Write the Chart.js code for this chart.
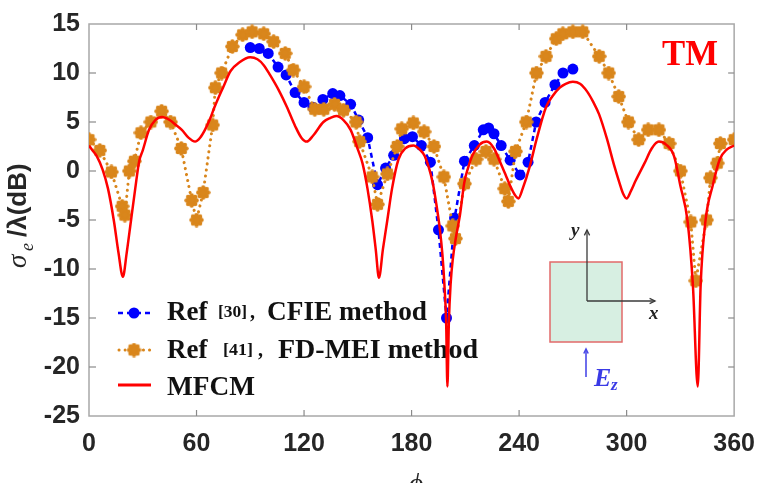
<!DOCTYPE html>
<html><head><meta charset="utf-8">
<script src="https://cdn.jsdelivr.net/npm/chart.js@4.4.0/dist/chart.umd.min.js"></script>
<style>html,body{margin:0;padding:0;background:#fff;overflow:hidden}#wrap{width:768px;height:483px;position:relative}</style>
</head><body><div id="wrap"><canvas id="c" width="768" height="483"></canvas></div>
<script>
// ---- tick labels ----
const xTicks = [0, 60, 120, 180, 240, 300, 360];
const yTicks = [-25, -20, -15, -10, -5, 0, 5, 10, 15];

// ---- MFCM (red solid) ----
const mfcmPhi = [0,2,4.4,7.5,10.6,13.9,16.5,18.9,21,23.4,25.8,28,30,33.5,37,40.8,45,48.5,51.8,55.5,59.2,62,64.7,67.5,70,75,79,84,90,94,97.5,101,106,110.5,115,118.5,121.5,125,130.8,134.5,138,142,146,150,152.6,155.4,158.1,160,161.8,164,166.4,169.1,172.7,176.5,181,184.5,187.4,191.8,194,195.7,197.2,198.3,199.3,200,200.8,201.8,203,205,207,209.4,211.5,214,218,222,226,229.7,232.5,235,237.5,239.6,242,246,249.7,255,258.5,262.7,266,270,274,278,281.5,284.6,289,293,296,298,300,302.5,305,310,314,318,322,326.5,330,334,337,339.7,341.3,344,348,352,356,360];
const mfcmVal = [2.6,2.1,1.5,0.2,-1.8,-5.1,-8.4,-10.8,-8.4,-5.1,-1.8,1.0,2.1,4.2,5.2,5.5,5.2,4.7,4.2,3.4,3.0,3.4,4.2,5.3,6.5,8.6,10.2,11.1,11.6,11.4,10.8,9.8,8.2,6.5,4.6,3.4,3.0,3.6,5.0,5.4,5.6,5.2,4.2,2.2,0.8,-1.8,-5.1,-8.0,-10.9,-8.0,-5.1,-1.8,1.2,2.3,2.6,2.2,1.5,-1.2,-3.6,-5.8,-8.5,-11.5,-15.5,-22,-15.5,-11.5,-9.0,-6.5,-4.5,-1.2,0.3,1.6,2.7,3.0,2.3,0.8,-0.4,-1.5,-2.4,-2.8,-1.8,0.5,3.2,6.5,7.6,8.5,8.9,9.1,8.9,8.1,7.0,5.8,3.3,0.6,-1.2,-2.3,-2.8,-2.0,-1.0,0.8,2.3,3.0,2.7,1.5,-1.5,-5.1,-11.7,-22,-11.7,-5.1,-1.5,1.2,2.2,2.6];

// ---- Ref [30] CFIE (blue dashed, dots) ----
const cfiePhi = [90,95,100,105.5,110,115,120,125,130.5,136,140,146,150.5,155.5,161,165.5,170,176,180.5,185.5,190.5,195,199.5,204,209.5,215,220,223,226,230,235,240.5,245,249.5,254.5,260,264.5,270];
const cfieVal = [12.6,12.5,12.0,10.6,9.8,8.0,7.0,6.5,7.3,7.9,7.7,6.8,5.2,3.4,-1.4,0.3,1.6,3.3,3.5,2.6,0.9,-6.0,-15,-4.8,1.0,2.6,4.2,4.4,3.8,2.6,1.1,-0.4,0.9,5.0,7.0,8.8,10.0,10.4];

// ---- Ref [41] FD-MEI (orange dotted, stars) ----
const fdmeiPhi = [0,6,12.5,18.5,20,22.5,25.3,29,34.5,40.5,45.5,51.5,57.3,60,63.7,69,70.5,74,80,85.7,91,97.5,103,109.5,114,120,126,131,137,142,149,151,158,161,166.5,172,174.5,181,187,192.5,198,203,204.5,209.5,216,221.5,226,232,234,238,244,249.7,255,260.7,264.4,270,275.5,284.7,290,295.6,301,306.7,312,318,323.7,330,335.8,338.6,344.6,346.8,350.6,352.3,360];
const fdmeiVal = [3.2,2.1,-0.1,-3.6,-4.5,0,1.0,3.9,5.0,6.1,5.0,2.3,-3.0,-5.0,-2.2,4.7,8.5,10.0,12.7,13.9,14.2,14.0,13.2,12.0,10.3,8.6,6.3,6.3,6.8,6.2,5.0,3.0,-0.6,-3.4,-0.3,2.5,4.3,4.9,4.0,2.5,-0.6,-5.6,-6.9,-1.3,1.2,2.0,1.2,-1.8,-3.1,2.0,5.0,10.0,11.7,13.5,14.0,14.2,14.2,11.7,10.0,7.6,5.0,3.2,4.2,4.2,2.8,0,-5.2,-11.2,-5.0,-0.7,0.8,2.8,3.2];

const RED = '#ff0000', BLUE = '#0000ff', ORANGE = '#d9861c';
const toXY = (xs, ys) => xs.map((v, i) => ({x: v, y: ys[i]}));

// star-like marker
function makeStar(size) {
  const c = document.createElement('canvas');
  c.width = size; c.height = size;
  const g = c.getContext('2d');
  const m = size / 2;
  g.fillStyle = ORANGE;
  g.beginPath(); g.arc(m, m, size * 0.30, 0, Math.PI * 2); g.fill();
  for (let k = 0; k < 8; k++) {
    const a = k * Math.PI / 4;
    g.beginPath();
    g.arc(m + Math.cos(a) * size * 0.33, m + Math.sin(a) * size * 0.33, size * 0.15, 0, Math.PI * 2);
    g.fill();
  }
  return c;
}
const star = makeStar(15);

function line(ctx, x1, y1, x2, y2) { ctx.beginPath(); ctx.moveTo(x1, y1); ctx.lineTo(x2, y2); ctx.stroke(); }
function fitText(ctx, t, x, y, w) {
  const nat = ctx.measureText(t).width;
  ctx.save(); ctx.translate(x, y); ctx.scale(w / nat, 1); ctx.fillText(t, 0, 0); ctx.restore();
}
function arrow(ctx, x1, y1, x2, y2, h) {
  line(ctx, x1, y1, x2, y2);
  const a = Math.atan2(y2 - y1, x2 - x1);
  ctx.beginPath();
  ctx.moveTo(x2 - h * Math.cos(a - 0.45), y2 - h * Math.sin(a - 0.45));
  ctx.lineTo(x2, y2);
  ctx.lineTo(x2 - h * Math.cos(a + 0.45), y2 - h * Math.sin(a + 0.45));
  ctx.stroke();
}

const deco = {
  id: 'deco',
  beforeDatasetsDraw(chart) {
    const {ctx, chartArea: a, scales: {x, y}} = chart;
    ctx.save();
    // frame
    ctx.strokeStyle = '#a8a8a8'; ctx.lineWidth = 1.5;
    ctx.strokeRect(a.left, a.top, a.right - a.left, a.bottom - a.top);
    // inward ticks
    ctx.strokeStyle = '#8a8a8a'; ctx.lineWidth = 1.2;
    xTicks.slice(1, -1).forEach(v => {
      const p = x.getPixelForValue(v);
      line(ctx, p, a.bottom, p, a.bottom - 6);
      line(ctx, p, a.top, p, a.top + 6);
    });
    yTicks.slice(1, -1).forEach(v => {
      const p = y.getPixelForValue(v);
      line(ctx, a.left, p, a.left + 7, p);
      line(ctx, a.right, p, a.right - 6, p);
    });

    // legend (inside, no box)
    ctx.lineCap = 'butt';
    ctx.strokeStyle = BLUE; ctx.lineWidth = 2.5; ctx.setLineDash([5, 4]);
    line(ctx, 118, 313, 152, 313); ctx.setLineDash([]);
    ctx.fillStyle = BLUE; ctx.beginPath(); ctx.arc(134, 313, 5.5, 0, Math.PI * 2); ctx.fill();
    ctx.strokeStyle = ORANGE; ctx.lineWidth = 3; ctx.lineCap = 'round'; ctx.setLineDash([0.1, 6]);
    line(ctx, 119, 350, 151, 350); ctx.setLineDash([]); ctx.lineCap = 'butt';
    ctx.drawImage(star, 134 - 7.5, 350 - 7.5);
    ctx.strokeStyle = RED; ctx.lineWidth = 3;
    line(ctx, 118, 385, 151, 385);

    ctx.fillStyle = '#111';
    ctx.textBaseline = 'alphabetic'; ctx.textAlign = 'left';
    ctx.font = 'bold 27px "Liberation Serif"';
    ctx.fillText('Ref', 167, 320);
    fitText(ctx, 'CFIE method', 267, 320, 160);
    ctx.fillText('Ref', 167, 358);
    fitText(ctx, 'FD-MEI method', 278, 358, 200);
    fitText(ctx, 'MFCM', 167, 395, 88);
    ctx.font = 'bold 16px "Liberation Serif"';
    fitText(ctx, '[30]', 218, 317, 29);
    fitText(ctx, '[41]', 223, 355, 30);
    ctx.font = 'bold 20px "Liberation Serif"';
    ctx.fillText(',', 250, 318);
    ctx.fillText(',', 258, 356);

    // inset
    ctx.fillStyle = '#d7efe2'; ctx.fillRect(550, 262, 72, 80);
    ctx.strokeStyle = '#e26a6a'; ctx.lineWidth = 1.5; ctx.strokeRect(550, 262, 72, 80);
    ctx.strokeStyle = '#3a3a3a'; ctx.lineWidth = 1.3;
    arrow(ctx, 587, 301, 587, 230, 6);
    arrow(ctx, 587, 301, 655, 301, 6);
    ctx.fillStyle = '#222';
    ctx.font = 'italic bold 19px "Liberation Serif"';
    ctx.fillText('y', 571, 236);
    ctx.fillText('x', 649, 319);
    ctx.strokeStyle = '#4a4ae8'; ctx.lineWidth = 1.6;
    arrow(ctx, 586, 377, 586, 349, 5);
    ctx.fillStyle = '#3a3ae6';
    ctx.font = 'italic bold 26px "Liberation Serif"';
    ctx.fillText('E', 594, 386);
    ctx.font = 'italic bold 17px "Liberation Serif"';
    ctx.fillText('z', 611, 390);
    ctx.restore();
  },
  afterDraw(chart) {
    const {ctx} = chart;
    ctx.save();
    ctx.fillStyle = RED; ctx.font = 'bold 36px "Liberation Serif"';
    ctx.textBaseline = 'alphabetic'; ctx.textAlign = 'left';
    fitText(ctx, 'TM', 662, 65, 56);
    // y axis title
    ctx.fillStyle = '#262626';
    ctx.translate(26, 268); ctx.rotate(-Math.PI / 2);
    ctx.font = 'italic 27px "Liberation Serif"';
    ctx.fillText('σ', 0, 0);
    ctx.font = 'italic 18px "Liberation Serif"';
    ctx.fillText('e', 17, 7);
    ctx.font = 'bold 26px "Liberation Sans"';
    ctx.fillText('/λ(dB)', 31, 0);
    ctx.restore();
    // x axis title
    ctx.save();
    ctx.fillStyle = '#262626';
    ctx.font = 'italic 28px "Liberation Serif"';
    ctx.textAlign = 'center'; ctx.textBaseline = 'alphabetic';
    ctx.fillText('ϕ', 416, 492);
    ctx.restore();
  }
};

const tickFont = {family: '"Liberation Sans", Arial, sans-serif', size: 25, weight: 'bold'};

new Chart(document.getElementById('c'), {
  type: 'line',
  data: {
    datasets: [
      {
        label: 'MFCM', data: toXY(mfcmPhi, mfcmVal), order: 1,
        borderColor: RED, borderWidth: 2.5, pointRadius: 0, fill: false,
        cubicInterpolationMode: 'monotone'
      },
      {
        label: 'Ref [41] , FD-MEI method', data: toXY(fdmeiPhi, fdmeiVal), order: 2,
        borderColor: ORANGE, borderWidth: 3, borderDash: [0.1, 6], borderCapStyle: 'round',
        pointStyle: star, pointRadius: 7, fill: false, tension: 0
      },
      {
        label: 'Ref [30] , CFIE method', data: toXY(cfiePhi, cfieVal), order: 3,
        borderColor: BLUE, borderWidth: 2.5, borderDash: [5, 4],
        pointStyle: 'circle', pointRadius: 5.5, pointBackgroundColor: BLUE, pointBorderColor: BLUE,
        pointBorderWidth: 0, fill: false, tension: 0
      }
    ]
  },
  options: {
    responsive: false, animation: false, devicePixelRatio: 1,
    layout: {padding: {top: 15, right: 24, left: 0, bottom: 0}},
    plugins: {legend: {display: false}, tooltip: {enabled: false}},
    scales: {
      x: {
        type: 'linear', min: 0, max: 360,
        afterBuildTicks: s => { s.ticks = xTicks.map(v => ({value: v})); },
        afterFit: s => { s.height = 67; },
        grid: {display: false, drawTicks: false},
        border: {display: false},
        ticks: {font: tickFont, color: '#262626', padding: 13, maxRotation: 0}
      },
      y: {
        type: 'linear', min: -25, max: 15,
        afterBuildTicks: s => { s.ticks = yTicks.map(v => ({value: v})); },
        afterFit: s => { s.width = 89; },
        grid: {display: false, drawTicks: false},
        border: {display: false},
        ticks: {font: tickFont, color: '#262626', padding: 9}
      }
    }
  },
  plugins: [deco]
});
</script>
</body></html>
